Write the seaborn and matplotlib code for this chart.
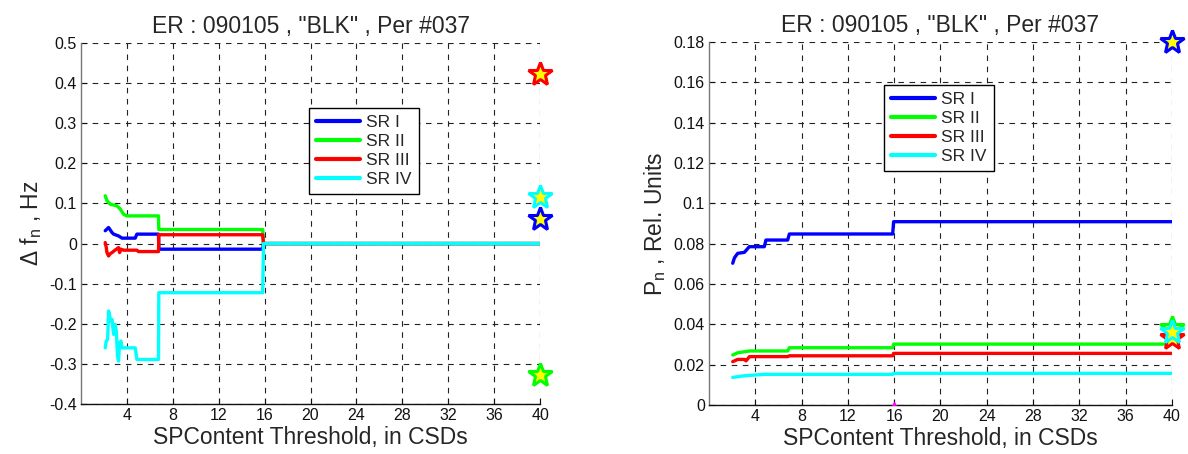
import numpy as np
import pandas as pd
import matplotlib
matplotlib.use("Agg")
import matplotlib.pyplot as plt
import seaborn as sns

# ---------------- data ----------------
series_names = ["SR I", "SR II", "SR III", "SR IV"]
colors = ["#0000ff", "#00ff00", "#ff0000", "#00ffff"]
title_text = 'ER : 090105 , "BLK" , Per #037'
xlabel_text = "SPContent Threshold, in CSDs"

# Left panel: delta f_n, Hz
L1_x = [2.11, 2.4, 2.7, 2.84, 3.27, 3.57, 4.72, 4.87, 6.75, 6.78, 15.83, 15.9, 40]
L1_y = [0.032, 0.04, 0.0275, 0.0235, 0.019, 0.0135, 0.0135, 0.0235, 0.0235, -0.014, -0.014, 0.0, 0.0]
L2_x = [2.11, 2.26, 2.55, 3.13, 3.42, 3.71, 4.0, 6.75, 6.78, 15.83, 15.9, 40]
L2_y = [0.119, 0.107, 0.098, 0.094, 0.086, 0.073, 0.069, 0.069, 0.035, 0.035, 0.0, 0.0]
L3_x = [2.11, 2.2, 2.26, 2.4, 2.55, 2.7, 2.98, 3.27, 3.36, 3.48, 3.71, 4.87, 5.0, 6.75, 6.78, 15.83, 15.9, 40]
L3_y = [0.0025, -0.01, -0.0225, -0.031, -0.025, -0.0225, -0.016, -0.01, -0.0225, -0.014, -0.0165, -0.0165,
        -0.02, -0.02, 0.022, 0.022, 0.0, 0.0]
L4_x = [2.11, 2.2, 2.32, 2.4, 2.49, 2.55, 2.7, 2.84, 2.98, 3.07, 3.18, 3.27, 3.36, 3.48, 3.57, 4.72, 4.87,
        6.75, 6.78, 15.83, 15.9, 40]
L4_y = [-0.26, -0.243, -0.239, -0.168, -0.177, -0.193, -0.189, -0.2265, -0.2015, -0.218, -0.281, -0.293,
        -0.2475, -0.243, -0.26, -0.26, -0.289, -0.289, -0.1225, -0.1225, 0.0, 0.0]
L_star_x = [40, 40, 40, 40]
L_star_y = [0.061, -0.327, 0.4235, 0.117]

# Right panel: P_n, Rel. Units
R1_x = [2.05, 2.2, 2.48, 3.06, 3.48, 4.78, 4.92, 6.8, 6.94, 15.87, 15.95, 40]
R1_y = [0.0703, 0.073, 0.0752, 0.0757, 0.0785, 0.0785, 0.0818, 0.0818, 0.0848, 0.0848, 0.0909, 0.0909]
R2_x = [2.05, 2.48, 3.5, 6.8, 6.94, 15.87, 15.95, 40]
R2_y = [0.0248, 0.0259, 0.0268, 0.0268, 0.0284, 0.0284, 0.0302, 0.0302]
R3_x = [2.05, 2.48, 3.06, 3.2, 3.5, 6.8, 6.94, 15.87, 15.95, 40]
R3_y = [0.0215, 0.0226, 0.0226, 0.0219, 0.024, 0.024, 0.0244, 0.0244, 0.0256, 0.0256]
R4_x = [2.05, 3.06, 4.78, 15.87, 15.95, 40]
R4_y = [0.0137, 0.0145, 0.0152, 0.0152, 0.0157, 0.0157]
R_star_x = [40, 40, 40, 40]
R_star_y = [0.180, 0.038, 0.033, 0.036]
R_mark_x = [16]
R_mark_y = [0.0]

left_xticks = [4, 8, 12, 16, 20, 24, 28, 32, 36, 40]
left_yticks = [-0.4, -0.3, -0.2, -0.1, 0, 0.1, 0.2, 0.3, 0.4, 0.5]
right_yticks = [0, 0.02, 0.04, 0.06, 0.08, 0.1, 0.12, 0.14, 0.16, 0.18]

# ---------------- style ----------------
sns.set_style("white")
plt.rcParams["font.family"] = ["Liberation Sans", "DejaVu Sans"]
plt.rcParams["mathtext.fontset"] = "custom"
plt.rcParams["mathtext.rm"] = "Liberation Sans"
plt.rcParams["mathtext.it"] = "Liberation Sans"

fig = plt.figure(figsize=(11.88, 4.54), dpi=100)
axL = fig.add_axes([0.0682, 0.1101, 0.3864, 0.7952])
axR = fig.add_axes([0.5968, 0.1079, 0.3897, 0.7996])


def make_df(xs, ys):
    frames = []
    for name, x, y in zip(series_names, xs, ys):
        frames.append(pd.DataFrame({"x": x, "y": y, "series": name, "order": np.arange(len(x))}))
    return pd.concat(frames, ignore_index=True)


def draw(ax, df, sx, sy, ylim, yticks, ylabel, leg_anchor, ylabel_fmt):
    sns.lineplot(data=df, x="x", y="y", hue="series", palette=colors, hue_order=series_names,
                 sort=False, estimator=None, linewidth=2.4, ax=ax, legend=True)
    for x, y, c in zip(sx, sy, colors):
        ax.plot([x], [y], marker="*", markersize=18, markerfacecolor="#ffff00",
                markeredgecolor=c, markeredgewidth=2.2, linestyle="none", clip_on=False, zorder=5)
    ax.set_xlim(0, 40)
    ax.set_ylim(*ylim)
    ax.set_xticks(left_xticks)
    ax.set_yticks(yticks)
    ax.set_yticklabels([ylabel_fmt(v) for v in yticks])
    ax.grid(True, color="#222222", linestyle=(0, (5, 5)), linewidth=0.8)
    ax.set_axisbelow(True)
    for s in ["top", "right"]:
        ax.spines[s].set_visible(False)
    ax.spines["left"].set_color("#777777")
    ax.spines["bottom"].set_color("#111111")
    ax.spines["left"].set_linewidth(1.0)
    ax.spines["bottom"].set_linewidth(1.0)
    ax.tick_params(axis="both", direction="in", length=4, labelsize=11.5, colors="#111111",
                   left=True, bottom=True, pad=3)
    ax.set_title(title_text, fontsize=16.5, pad=7)
    ax.set_xlabel(xlabel_text, fontsize=16.5, labelpad=2)
    ax.set_ylabel(ylabel, fontsize=16.5, labelpad=4)
    leg = ax.legend(loc="upper left", bbox_to_anchor=leg_anchor, bbox_transform=fig.transFigure,
                    fontsize=12.5, frameon=True, fancybox=False, framealpha=1, edgecolor="black",
                    handlelength=2.55, handletextpad=0.35, labelspacing=0.22, borderpad=0.4,
                    borderaxespad=0)
    leg.get_frame().set_linewidth(1.0)
    for h in leg.legend_handles:
        h.set_linewidth(3.0)


dfL = make_df([L1_x, L2_x, L3_x, L4_x], [L1_y, L2_y, L3_y, L4_y])
dfR = make_df([R1_x, R2_x, R3_x, R4_x], [R1_y, R2_y, R3_y, R4_y])

# order stars so the blue one is drawn above cyan on the left
draw(axL, dfL, L_star_x, L_star_y, (-0.4, 0.5), left_yticks,
     r"$\Delta$ f$_{\mathrm{n}}$ , Hz", (0.2601, 0.7621), lambda v: f"{v:g}")
draw(axR, dfR, R_star_x, R_star_y, (0, 0.18), right_yticks,
     r"P$_{\mathrm{n}}$ , Rel. Units", (0.7441, 0.8128), lambda v: f"{v:g}")
axR.plot(R_mark_x, R_mark_y, marker="^", markersize=5, color="#ff00ff", linestyle="none", zorder=6)

fig.savefig("out.png", dpi=100)
